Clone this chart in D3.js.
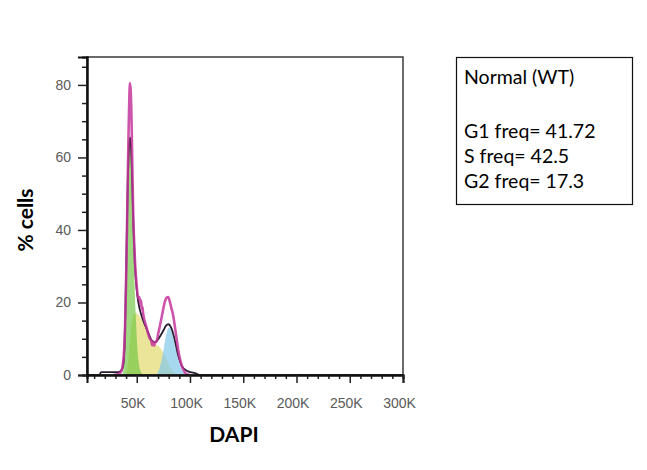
<!DOCTYPE html>
<html>
<head>
<meta charset="utf-8">
<script src="https://cdn.jsdelivr.net/npm/d3@7"></script>
<style>
  html, body { margin: 0; padding: 0; background: #ffffff; }
  svg { display: block; }
</style>
</head>
<body>
<svg id="chart" width="647" height="470"></svg>
<script>
// ---------------- data (DAPI in thousands, y in % cells) ----------------
const xTickValues = [50, 100, 150, 200, 250, 300];
const xTickLabels = ["50K", "100K", "150K", "200K", "250K", "300K"];
const yTickValues = [0, 20, 40, 60, 80];
const yTickLabels = ["0", "20", "40", "60", "80"];

// measured histogram (magenta)
const dataX = [28, 33, 35.5, 37, 38.2, 39.2, 40.2, 41.2, 42.2, 43, 43.7, 44.4, 45.2, 46, 46.8, 47.4, 48.4, 50, 51.5, 52.5, 53.3, 54.1, 54.6, 55.3, 56, 57.7, 59.3, 60.8, 62.3, 63.5, 64.5, 65.4, 66.3, 67.2, 68.7, 70.2, 71.8, 73.3, 74.9, 76.5, 78, 79.6, 81, 82.5, 84.3, 86, 87.5, 89, 90.6, 92.2, 93.7, 96, 100];
const dataY = [0, 0.3, 1, 3, 7, 15, 29, 47, 65, 76, 80.5, 78, 69, 55, 43, 38, 31, 24.6, 21, 21.5, 19.5, 20.5, 18.2, 18.8, 17, 14.6, 13, 11.3, 10, 9.6, 8.2, 9.2, 8.1, 8.9, 9.4, 11.5, 13.6, 15.8, 18.2, 20.3, 21.3, 21.5, 20.3, 18.5, 16.3, 13, 9.9, 6.8, 4.4, 2.6, 1.5, 0.4, 0];

// fitted model total (black)
const modelX = [3.3, 15, 16.5, 33, 36, 37.5, 38.5, 39.5, 40.5, 41.5, 42.6, 43.7, 44.8, 45.8, 46.8, 48.2, 49.8, 51.5, 54.6, 57, 59.3, 62, 64, 67.1, 69.5, 71.8, 74.9, 77.5, 79.6, 82.8, 85.9, 89, 92.2, 96.9, 100.5, 104.7, 110, 300];
const modelY = [0, 0, 0.8, 0.8, 1.5, 3, 8, 20, 36, 52, 62, 65.5, 62, 53, 42, 31, 24, 20, 16.3, 14.3, 12.7, 10.8, 9.6, 9, 9.6, 10.6, 12.2, 13.6, 14, 12.7, 9.4, 5.3, 2.6, 1.2, 0.8, 0.5, 0, 0];

// G1 component (green)
const g1X = [36.5, 38, 39.5, 41, 42.5, 43.7, 45, 46.2, 47.5, 49, 50.5, 52, 54, 56];
const g1Y = [0, 3, 16, 40, 60, 65, 60, 46, 30, 17, 8, 3, 0.8, 0];

// S component (yellow)
const sX = [40, 42, 44, 46, 48, 50, 53, 56, 60, 64, 68, 72, 76, 80, 84, 88];
const sY = [0, 4, 11, 15.5, 17, 17, 16, 14.5, 12, 9.5, 8.5, 7.5, 5.5, 3, 1, 0];

// G2 component (blue)
const g2X = [68, 71, 74, 76, 78, 80, 82, 84, 86, 88, 90, 92, 95, 98];
const g2Y = [0, 1.5, 5, 8.5, 11.5, 13, 12.5, 10.5, 8, 5.5, 3.2, 1.6, 0.5, 0];

const legendTitle = "Normal (WT)";
const legendLines = ["G1 freq= 41.72", "S freq= 42.5", "G2 freq= 17.3"];

// ---------------- drawing ----------------
const svg = d3.select("#chart");
const pLeft = 87, pRight = 403, pTop = 57, pBottom = 375;

const x = d3.scaleLinear().domain([3.3, 300]).range([pLeft, pRight]);
const y = d3.scaleLinear().domain([0, 87.7]).range([pBottom, pTop]);

const zip = (xs, ys) => xs.map((v, i) => [v, ys[i]]);

const area = d3.area()
  .x(d => x(d[0])).y0(y(0)).y1(d => y(d[1]))
  .curve(d3.curveMonotoneX);
const line = d3.line()
  .x(d => x(d[0])).y(d => y(d[1]))
  .curve(d3.curveMonotoneX);

const plot = svg.append("g");

plot.append("path").datum(zip(sX, sY)).attr("d", area)
  .attr("fill", "#e2da6e").attr("fill-opacity", 0.7);
plot.append("path").datum(zip(g1X, g1Y)).attr("d", area)
  .attr("fill", "#6cc43e").attr("fill-opacity", 0.65);
plot.append("path").datum(zip(g2X, g2Y)).attr("d", area)
  .attr("fill", "#80c8ea").attr("fill-opacity", 0.7);

plot.append("path").datum(zip(modelX, modelY)).attr("d", line)
  .attr("fill", "none").attr("stroke", "#2a1d30").attr("stroke-width", 1.8);
plot.append("path").datum(zip(dataX, dataY)).attr("d", line)
  .attr("fill", "none").attr("stroke", "#c4369c").attr("stroke-width", 2.6)
  .attr("stroke-opacity", 0.85).attr("stroke-linejoin", "round");

// frame
svg.append("rect").attr("x", pLeft).attr("y", pTop)
  .attr("width", pRight - pLeft).attr("height", pBottom - pTop)
  .attr("fill", "none").attr("stroke", "#3a3a3a").attr("stroke-width", 1.5);

// x axis
const minorX = d3.range(10, 301, 10).filter(v => !xTickValues.includes(v));
const xMinor = svg.append("g").attr("transform", `translate(0,${pBottom})`)
  .call(d3.axisBottom(x).tickValues(minorX).tickSize(4).tickFormat(""));
const xMajor = svg.append("g").attr("transform", `translate(0,${pBottom})`)
  .call(d3.axisBottom(x).tickValues(xTickValues).tickSize(8)
    .tickFormat((d, i) => xTickLabels[i]));
[xMinor, xMajor].forEach(g => {
  g.select(".domain").attr("stroke", "#111").attr("stroke-width", 2);
  g.selectAll(".tick line").attr("stroke", "#222").attr("stroke-width", 1.5);
});
xMajor.selectAll(".tick text")
  .attr("y", 23).attr("dy", "0.71em").attr("dx", -4)
  .attr("font-family", "Liberation Sans, Arial, sans-serif")
  .attr("font-size", 14).attr("fill", "#5a5a5a");

// y axis
const minorY = d3.range(5, 86, 5).filter(v => !yTickValues.includes(v));
const yMinor = svg.append("g").attr("transform", `translate(${pLeft},0)`)
  .call(d3.axisLeft(y).tickValues(minorY).tickSize(5).tickFormat(""));
const yMajor = svg.append("g").attr("transform", `translate(${pLeft},0)`)
  .call(d3.axisLeft(y).tickValues(yTickValues).tickSize(9)
    .tickFormat((d, i) => yTickLabels[i]));
[yMinor, yMajor].forEach(g => {
  g.select(".domain").attr("stroke", "#111").attr("stroke-width", 2);
  g.selectAll(".tick line").attr("stroke", "#222").attr("stroke-width", 1.5);
});
yMajor.selectAll(".tick text")
  .attr("x", -16)
  .attr("font-family", "Liberation Sans, Arial, sans-serif")
  .attr("font-size", 14).attr("fill", "#5a5a5a");

// axis titles
svg.append("text").attr("x", 234).attr("y", 442)
  .attr("text-anchor", "middle")
  .attr("font-family", "Lato, 'Open Sans', sans-serif").attr("font-weight", "bold")
  .attr("font-size", 21).attr("fill", "#000").text("DAPI");
svg.append("text")
  .attr("transform", "translate(33,220) rotate(-90)")
  .attr("text-anchor", "middle")
  .attr("font-family", "Lato, 'Open Sans', sans-serif").attr("font-weight", "bold")
  .attr("font-size", 21).attr("fill", "#000").text("% cells");

// legend box
const lg = svg.append("g");
lg.append("rect").attr("x", 456.5).attr("y", 57.5).attr("width", 176).attr("height", 147)
  .attr("fill", "#fff").attr("stroke", "#111").attr("stroke-width", 1.2);
lg.append("text").attr("x", 464).attr("y", 84)
  .attr("font-family", "Lato, 'Open Sans', sans-serif").attr("font-size", 19.5)
  .attr("fill", "#000").text(legendTitle);
legendLines.forEach((t, i) => {
  lg.append("text").attr("x", 464).attr("y", 138 + i * 25)
    .attr("font-family", "Lato, 'Open Sans', sans-serif").attr("font-size", 19.5)
    .attr("fill", "#000").text(t);
});
</script>
</body>
</html>
